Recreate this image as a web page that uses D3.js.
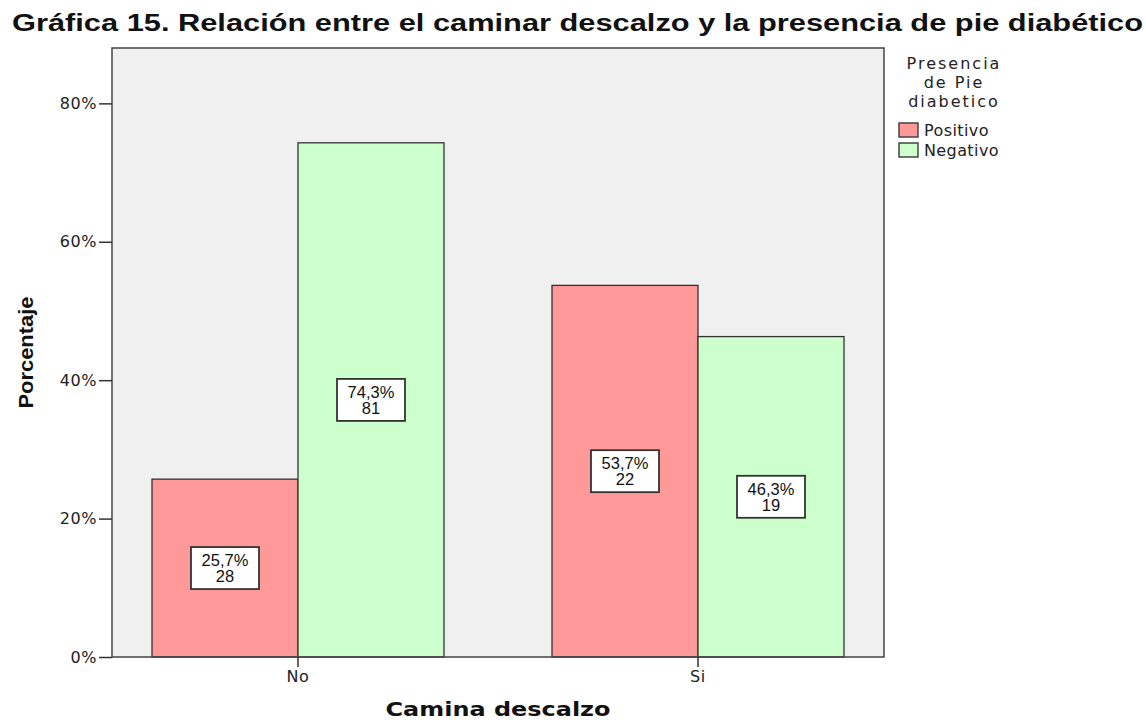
<!DOCTYPE html>
<html>
<head>
<meta charset="utf-8">
<script src="https://cdn.jsdelivr.net/npm/d3@7"></script>
<style>
  body { margin: 0; background: #fff; }
  text { font-family: "Liberation Sans", Arial, sans-serif; fill: #111; }
</style>
</head>
<body>
<svg id="chart" width="1146" height="720"></svg>
<script>
// data
var categories = ["No", "Si"];
var series = ["Positivo", "Negativo"];
var percents = [[25.7, 74.3], [53.7, 46.3]];
var counts = [[28, 81], [22, 19]];
var yTicks = [0, 20, 40, 60, 80];
var colours = ["#FF9999", "#CCFFCC"];

var svg = d3.select("#chart"),
    margin = {top: 48, right: 262, bottom: 63, left: 112},
    width = +svg.attr("width") - margin.left - margin.right,
    height = +svg.attr("height") - margin.top - margin.bottom;

var wideFont = "Verdana, 'DejaVu Sans', sans-serif";

// scales
var x0 = d3.scaleBand().domain(categories).range([0, width])
    .paddingInner(0.27).paddingOuter(0.1);
var x1 = d3.scaleBand().domain(series).range([0, x0.bandwidth()]);
var y = d3.scaleLinear().domain([0, 88]).range([height, 0]);

var g = svg.append("g")
  .attr("transform", "translate(" + margin.left + "," + margin.top + ")");

// plot background
g.append("rect")
  .attr("width", width).attr("height", height)
  .attr("fill", "#F0F0F0");

// bars
var groups = g.selectAll(".cat")
  .data(categories)
  .enter().append("g")
  .attr("class", "cat")
  .attr("transform", function(d) { return "translate(" + x0(d) + ",0)"; });

groups.selectAll("rect")
  .data(function(d, i) {
    return series.map(function(s, j) {
      return {s: s, v: percents[i][j], n: counts[i][j], c: colours[j]};
    });
  })
  .enter().append("rect")
  .attr("x", function(d) { return x1(d.s); })
  .attr("y", function(d) { return y(d.v); })
  .attr("width", x1.bandwidth())
  .attr("height", function(d) { return height - y(d.v); })
  .attr("fill", function(d) { return d.c; })
  .attr("stroke", "#333")
  .attr("stroke-width", 1.3);

// value labels in boxes
var labels = groups.selectAll(".lbl")
  .data(function(d, i) {
    return series.map(function(s, j) {
      return {s: s, v: percents[i][j], n: counts[i][j]};
    });
  })
  .enter().append("g")
  .attr("class", "lbl")
  .attr("transform", function(d) {
    return "translate(" + (x1(d.s) + x1.bandwidth() / 2) + "," + (y(d.v / 2)) + ")";
  });

labels.append("rect")
  .attr("x", -34).attr("y", -21)
  .attr("width", 68).attr("height", 42)
  .attr("fill", "#fff")
  .attr("stroke", "#333")
  .attr("stroke-width", 1.8);

labels.append("text")
  .attr("text-anchor", "middle")
  .attr("y", -2)
  .style("font-size", "16.5px")
  .text(function(d) { return d.v.toFixed(1).replace(".", ",") + "%"; });

labels.append("text")
  .attr("text-anchor", "middle")
  .attr("y", 14)
  .style("font-size", "16.5px")
  .text(function(d) { return d.n; });

// frame
g.append("rect")
  .attr("width", width).attr("height", height)
  .attr("fill", "none")
  .attr("stroke", "#444")
  .attr("stroke-width", 1.5);

// y axis
var yAxis = g.append("g")
  .call(d3.axisLeft(y).tickValues(yTicks).tickSize(13)
    .tickFormat(function(d) { return d + "%"; }));
yAxis.select(".domain").remove();
yAxis.selectAll("line").attr("stroke", "#333").attr("stroke-width", 1.5);
yAxis.selectAll("text").style("font-size", "16px").attr("x", -15)
  .style("letter-spacing", "0.6px")
  .style("font-family", wideFont).style("fill", "#222");

// x axis
var xAxis = g.append("g")
  .attr("transform", "translate(0," + height + ")")
  .call(d3.axisBottom(x0).tickSize(10));
xAxis.select(".domain").remove();
xAxis.selectAll("line").attr("stroke", "#333").attr("stroke-width", 1.5);
xAxis.selectAll("text").style("font-size", "16px").attr("y", 14)
  .style("letter-spacing", "0.6px")
  .style("font-family", wideFont).style("fill", "#222");

// axis titles
svg.append("text")
  .attr("x", margin.left + width / 2)
  .attr("y", 716)
  .attr("text-anchor", "middle")
  .style("font-size", "20px")
  .style("font-weight", "bold")
  .style("font-family", wideFont)
  .attr("textLength", 225)
  .attr("lengthAdjust", "spacingAndGlyphs")
  .text("Camina descalzo");

svg.append("text")
  .attr("transform", "translate(33," + (margin.top + height / 2) + ") rotate(-90)")
  .attr("text-anchor", "middle")
  .style("font-size", "21px")
  .style("font-weight", "bold")
  .attr("textLength", 112)
  .attr("lengthAdjust", "spacingAndGlyphs")
  .text("Porcentaje");

// chart title
svg.append("text")
  .attr("x", 12)
  .attr("y", 31)
  .style("font-size", "23px")
  .style("font-weight", "bold")
  .attr("textLength", 1131)
  .attr("lengthAdjust", "spacingAndGlyphs")
  .text("Gráfica 15. Relación entre el caminar descalzo y la presencia de pie diabético");

// legend
var legend = svg.append("g").attr("transform", "translate(899,0)");
["Presencia", "de Pie", "diabetico"].forEach(function(t, i) {
  legend.append("text")
    .attr("x", 55).attr("y", 69 + i * 19)
    .attr("text-anchor", "middle")
    .style("font-size", "16px")
    .style("letter-spacing", "2px")
    .style("font-family", wideFont)
    .style("fill", "#222")
    .text(t);
});
series.forEach(function(s, i) {
  legend.append("rect")
    .attr("x", 0).attr("y", 123 + i * 20)
    .attr("width", 19).attr("height", 14)
    .attr("fill", colours[i])
    .attr("stroke", "#444").attr("stroke-width", 1.5);
  legend.append("text")
    .attr("x", 25).attr("y", 136 + i * 20)
    .style("font-size", "16px")
    .style("letter-spacing", "0.4px")
    .style("font-family", wideFont)
    .style("fill", "#222")
    .text(s);
});
</script>
</body>
</html>
